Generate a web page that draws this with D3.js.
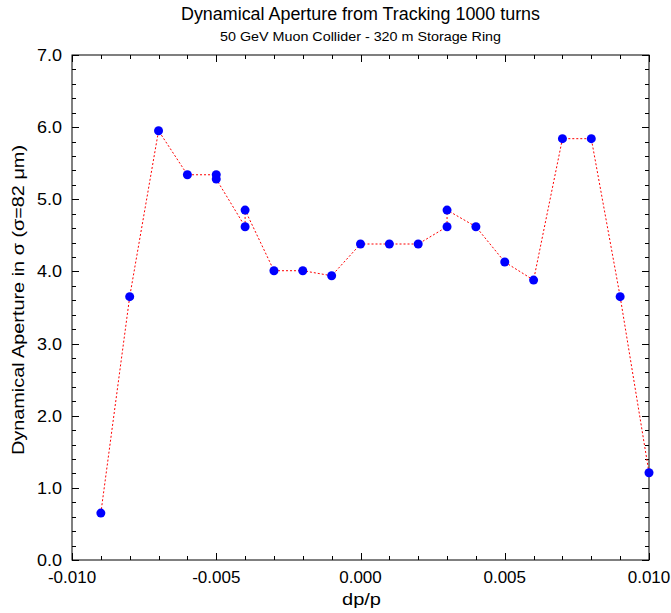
<!DOCTYPE html>
<html>
<head>
<meta charset="utf-8">
<script src="https://cdn.jsdelivr.net/npm/d3@7"></script>
<style>
body{margin:0;background:#fff}
svg text{font-family:"Liberation Sans",Arial,sans-serif;fill:#000}
</style>
</head>
<body>
<div id="chart"></div>
<script>
// dp/p values, in the order the line visits them
const dpp=[-0.009,-0.008,-0.007,-0.006,-0.005,-0.005,-0.004,-0.004,-0.003,-0.002,-0.001,
0.000,0.001,0.002,0.003,0.003,0.004,0.005,0.006,0.007,0.008,0.009,0.010]
// dynamical aperture in sigma
const aperture=[0.65,3.65,5.95,5.34,5.34,5.28,4.62,4.85,4.01,4.01,3.94,
4.38,4.38,4.38,4.62,4.85,4.62,4.13,3.88,5.84,5.84,3.65,1.21]

const xTicks=[-0.010,-0.005,0.000,0.005,0.010]
const yTicks=[0,1,2,3,4,5,6,7]

const title="Dynamical Aperture from Tracking 1000 turns"
const subtitle="50 GeV Muon Collider - 320 m Storage Ring"
const xTitle="dp/p"
const yTitle="Dynamical Aperture in σ (σ=82 μm)"

const width=671
const height=613
const margin={top:55,right:22,bottom:53,left:72}
const W=width-margin.left-margin.right
const H=height-margin.top-margin.bottom

const svg=d3.select("#chart")
.append("svg")
.attr("width",width)
.attr("height",height)

const g=svg.append("g")
.attr("transform","translate("+margin.left+","+margin.top+")")

const x=d3.scaleLinear().domain([-0.010,0.010]).range([0,W])
const y=d3.scaleLinear().domain([0,7]).range([H,0])

// frame
g.append("rect")
.attr("width",W)
.attr("height",H)
.attr("fill","none")
.attr("stroke","#000")
.attr("stroke-width",1)

// inward ticks on all four sides
const xMinor=d3.range(-10,11).map(d=>d/1000)
const yMinor=d3.range(0,36).map(d=>d/5)

function tickLen(v,step){return Math.abs(v/step-Math.round(v/step))<1e-6?7:4}

const tk=g.append("g").attr("stroke","#000").attr("stroke-width",1)
xMinor.forEach(v=>{
const L=tickLen(v,0.005)
const px=Math.round(x(v))+0.5
tk.append("line").attr("x1",px).attr("x2",px).attr("y1",H).attr("y2",H-L)
tk.append("line").attr("x1",px).attr("x2",px).attr("y1",0).attr("y2",L)
})
yMinor.forEach(v=>{
const L=tickLen(v,1)
const py=Math.round(y(v))+0.5
tk.append("line").attr("x1",0).attr("x2",L).attr("y1",py).attr("y2",py)
tk.append("line").attr("x1",W).attr("x2",W-L).attr("y1",py).attr("y2",py)
})

// tick labels
g.selectAll(".xl")
.data(xTicks)
.enter()
.append("text")
.attr("x",d=>x(d))
.attr("y",H+23)
.attr("text-anchor","middle")
.attr("font-size",17)
.text(d=>d3.format(".3f")(d).replace("−","-"))

g.selectAll(".yl")
.data(yTicks)
.enter()
.append("text")
.attr("x",-10)
.attr("y",d=>y(d)+6)
.attr("text-anchor","end")
.attr("font-size",16)
.attr("textLength",25)
.attr("lengthAdjust","spacingAndGlyphs")
.text(d=>d3.format(".1f")(d))

// titles
svg.append("text")
.attr("x",margin.left+W/2)
.attr("y",20)
.attr("text-anchor","middle")
.attr("font-size",17.5)
.attr("textLength",359)
.attr("lengthAdjust","spacingAndGlyphs")
.text(title)

svg.append("text")
.attr("x",margin.left+W/2)
.attr("y",41)
.attr("text-anchor","middle")
.attr("font-size",12)
.attr("textLength",281)
.attr("lengthAdjust","spacingAndGlyphs")
.text(subtitle)

svg.append("text")
.attr("x",margin.left+W/2+1)
.attr("y",605)
.attr("text-anchor","middle")
.attr("font-size",17)
.attr("textLength",39)
.attr("lengthAdjust","spacingAndGlyphs")
.text(xTitle)

svg.append("text")
.attr("transform","translate(24,300) rotate(-90)")
.attr("text-anchor","middle")
.attr("font-size",16)
.attr("textLength",310)
.attr("lengthAdjust","spacingAndGlyphs")
.text(yTitle)

// data
const pts=dpp.map((d,i)=>({x:d,y:aperture[i]}))

g.append("path")
.datum(pts)
.attr("fill","none")
.attr("stroke","#f00")
.attr("stroke-width",1)
.attr("stroke-dasharray","2,2")
.attr("d",d3.line().x(d=>x(d.x)).y(d=>y(d.y)))

g.selectAll(".pt")
.data(pts)
.enter()
.append("circle")
.attr("cx",d=>x(d.x))
.attr("cy",d=>y(d.y))
.attr("r",4.5)
.attr("fill","#00f")
</script>
</body>
</html>
